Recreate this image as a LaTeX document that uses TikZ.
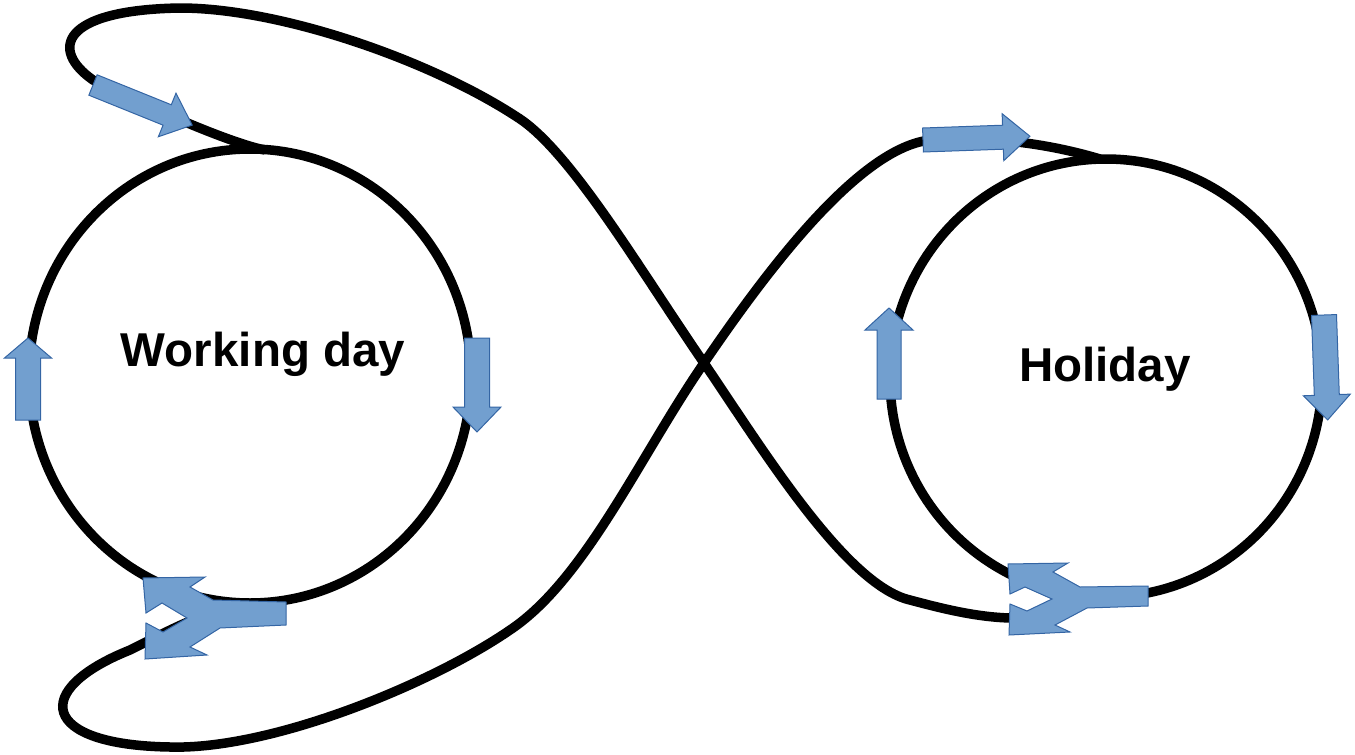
\documentclass[tikz,border=0pt]{standalone}
\usepackage{fontspec}
\setmainfont{Liberation Sans}

\definecolor{arrowblue}{HTML}{729FCF}
\definecolor{arrowedge}{HTML}{3465A4}

\tikzset{
  loopline/.style={line width=9.5pt, black},
  arrowbody/.style={fill=arrowblue, draw=arrowedge, line width=1pt, line join=miter},
  daylabel/.style={font=\bfseries\fontsize{47.5}{57}\selectfont, inner sep=0pt, anchor=base},
  % length / shaft width / head width / head length
  pics/blockarrow/.style args={#1/#2/#3/#4}{code={
    \draw[arrowbody] (0,-#2/2) -- (#1-#4,-#2/2) -- (#1-#4,-#3/2) -- (#1,0)
      -- (#1-#4,#3/2) -- (#1-#4,#2/2) -- (0,#2/2) -- cycle;
  }}
}

\begin{document}
\begin{tikzpicture}[x=1pt, y=-1pt]
    \useasboundingbox (0,0) rectangle (1355,755);

    \coordinate (wc) at (250,376);
    \coordinate (hc) at (1106,378);
    \coordinate (wtop) at (265,150);
    \coordinate (wbot) at (250,604);
    \coordinate (htop) at (1100,159);
    \coordinate (hbot) at (1100,598);
    \coordinate (cross) at (704,363);

    % the two days
    \draw[loopline] (wc) ellipse [x radius=221, y radius=227];
    \draw[loopline] (hc) ellipse [x radius=216, y radius=219];

    % upper strand
    \draw[loopline] (wtop) .. controls (230,143) and (150,108) .. (93,80)
        .. controls (50,50) and (60,10) .. (180,8)
        .. controls (280,8) and (430,60) .. (517,117)
        .. controls (570,150) and (640,270) .. (cross)
        .. controls (760,445) and (845,585) .. (910,600)
        .. controls (940,608) and (975,617) .. (1010,618)
        .. controls (1050,618) and (1070,600) .. (hbot);
    % lower strand
    \draw[loopline] (htop) .. controls (1060,147) and (1000,135) .. (930,140)
        .. controls (860,148) and (770,266) .. (cross)
        .. controls (640,456) and (585,580) .. (510,630)
        .. controls (430,685) and (270,750) .. (170,747)
        .. controls (40,745) and (30,690) .. (130,650)
        .. controls (170,630) and (210,608) .. (wbot);

    \node[daylabel] (work) at (263,366) {Working day};
    \node[daylabel] (holi) at (1105,381) {Holiday};

    % arrows
    \pic[rotate=-22] at (93,85) {blockarrow={107/22/47/27}};
    \pic[rotate=2] at (923,140) {blockarrow={107/24/47/27}};
    \pic[rotate=90] at (28,420) {blockarrow={82/25/47/20}};
    \pic[rotate=-90] at (477,338) {blockarrow={94/25/48/25}};
    \pic[rotate=90] at (889,399) {blockarrow={91/24/48/22}};
    \pic[rotate=-88] at (1324,315) {blockarrow={105/25/47/25}};

    % split arrows
    \draw[arrowbody] (143,578) -- (205,577) -- (190,587) -- (213,600) -- (286,602)
        -- (286,625) -- (220,628) -- (190,647) -- (207,655) -- (145,659)
        -- (146,623) -- (163,632) -- (187,618) -- (162,603) -- (146,613) -- cycle;
    \draw[arrowbody] (1008,564) -- (1068,563) -- (1053,572) -- (1080,587) -- (1148,586)
        -- (1148,606) -- (1087,608) -- (1055,625) -- (1070,632) -- (1009,635)
        -- (1010,604) -- (1027,611) -- (1052,599) -- (1025,587) -- (1010,594) -- cycle;
\end{tikzpicture}
\end{document}
